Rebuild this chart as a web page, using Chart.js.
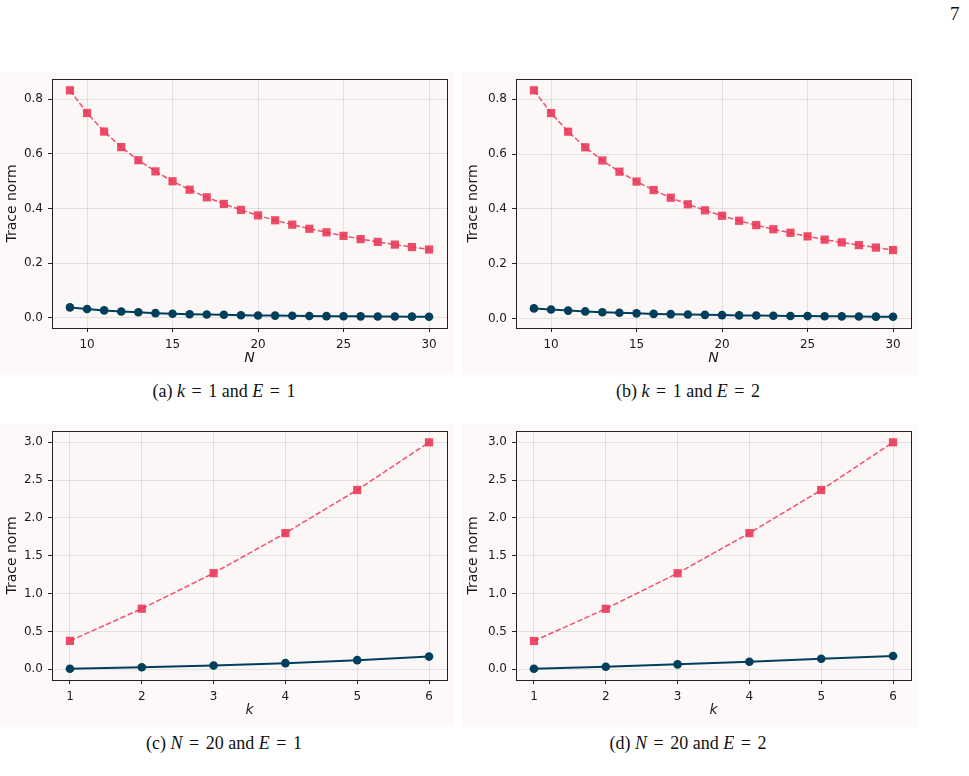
<!DOCTYPE html>
<html><head><meta charset="utf-8">
<script src="https://cdn.jsdelivr.net/npm/chart.js@4"></script>
<style>
body{margin:0;background:#fff;width:969px;height:776px;position:relative;overflow:hidden;font-family:"DejaVu Sans";}
.panel{position:absolute;background:#fdf9f9;}
.panel canvas{display:block;}
.cap{position:absolute;font-family:"Liberation Serif",serif;font-size:18px;color:#111;transform:translate(-50%,-50%);white-space:nowrap;}
.cap .eq{margin:0 6.5px;}
#pg{position:absolute;left:950px;top:3px;font-family:"Liberation Serif",serif;font-size:19px;color:#111;}
</style></head><body>
<div id="pg">7</div>
<div class="panel" style="left:0;top:72px;width:455px;height:303px"><canvas id="ca" width="455" height="303"></canvas></div>
<div class="panel" style="left:461px;top:72px;width:457px;height:303px"><canvas id="cb" width="457" height="303"></canvas></div>
<div class="panel" style="left:0;top:424px;width:455px;height:303px"><canvas id="cc" width="455" height="303"></canvas></div>
<div class="panel" style="left:461px;top:424px;width:457px;height:303px"><canvas id="cd" width="457" height="303"></canvas></div>
<div class="cap" style="left:224px;top:391px">(a) <i>k</i><span class="eq">=</span>1 and <i>E</i><span class="eq">=</span>1</div>
<div class="cap" style="left:688px;top:391px">(b) <i>k</i><span class="eq">=</span>1 and <i>E</i><span class="eq">=</span>2</div>
<div class="cap" style="left:224px;top:743px">(c) <i>N</i><span class="eq">=</span>20 and <i>E</i><span class="eq">=</span>1</div>
<div class="cap" style="left:688px;top:743px">(d) <i>N</i><span class="eq">=</span>20 and <i>E</i><span class="eq">=</span>2</div>
<script>
// ---- data ----
const nValues = [9,10,11,12,13,14,15,16,17,18,19,20,21,22,23,24,25,26,27,28,29,30];
const redA  = [0.833,0.750,0.682,0.625,0.577,0.536,0.500,0.469,0.441,0.417,0.395,0.375,0.357,0.341,0.326,0.313,0.300,0.288,0.278,0.268,0.259,0.250];
const blueA = [0.038,0.032,0.027,0.023,0.020,0.017,0.015,0.013,0.012,0.011,0.0095,0.0085,0.008,0.0072,0.0066,0.006,0.0056,0.0052,0.0048,0.0045,0.0042,0.004];
const redB  = [0.833,0.750,0.682,0.625,0.577,0.536,0.500,0.469,0.441,0.417,0.395,0.375,0.357,0.341,0.326,0.313,0.300,0.288,0.278,0.268,0.259,0.250];
const blueB = [0.037,0.033,0.029,0.026,0.023,0.021,0.019,0.017,0.016,0.015,0.0135,0.0125,0.0115,0.011,0.010,0.0095,0.009,0.0085,0.008,0.0075,0.007,0.0068];
const kValues = [1,2,3,4,5,6];
const redC  = [0.375,0.80,1.27,1.80,2.37,3.00];
const blueC = [0.007,0.026,0.048,0.080,0.120,0.167];
const redD  = [0.375,0.80,1.27,1.80,2.37,3.00];
const blueD = [0.009,0.035,0.066,0.100,0.140,0.176];
const xTicksN = [10,15,20,25,30];
const xTicksK = [1,2,3,4,5,6];
const yTicksAB = [0,0.2,0.4,0.6,0.8];
const yTicksCD = [0,0.5,1.0,1.5,2.0,2.5,3.0];
const yTitle = 'Trace norm';

// ---- style ----
const RED_LINE = '#f0506c';
const RED_MARK = 'rgba(232,52,84,0.88)';
const BLUE = '#003f5c';
const GRID = 'rgba(0,0,0,0.085)';
const AX_BG = '#fcf7f7';
const TXT = '#1a1a1a';

const boxPlugin = {
  id:'box',
  beforeDraw(c){const a=c.chartArea,x=c.ctx;x.save();x.fillStyle=AX_BG;x.fillRect(a.left,a.top,a.right-a.left,a.bottom-a.top);x.restore();},
  afterDraw(c){const a=c.chartArea,x=c.ctx;x.save();x.strokeStyle='#222';x.lineWidth=1;
    x.strokeRect(Math.round(a.left)+0.5,Math.round(a.top)+0.5,Math.round(a.right-a.left),Math.round(a.bottom-a.top));x.restore();}
};

function range(vals){const mn=Math.min(...vals),mx=Math.max(...vals),p=(mx-mn)*0.05;return [mn-p,mx+p];}

function make(id, xs, red, blue, xTicks, yTicks, xLabel, yW, padR){
  const [xmin,xmax]=range(xs);
  const [ymin,ymax]=range(red.concat(blue));
  new Chart(document.getElementById(id),{
    type:'line',
    data:{datasets:[
      {data:xs.map((x,i)=>({x,y:blue[i]})),borderColor:BLUE,backgroundColor:BLUE,borderWidth:2,
        pointStyle:'circle',pointRadius:4.3,pointBorderWidth:0,pointBackgroundColor:BLUE,tension:0},
      {data:xs.map((x,i)=>({x,y:red[i]})),borderColor:RED_LINE,borderWidth:1.5,borderDash:[5.5,2.4],
        pointStyle:'rect',pointRadius:5.8,pointBorderWidth:0,pointBackgroundColor:RED_MARK,tension:0}
    ]},
    options:{
      responsive:false,animation:false,devicePixelRatio:1,
      layout:{padding:{top:7,right:padR,left:0,bottom:0}},
      plugins:{legend:{display:false},tooltip:{enabled:false}},
      scales:{
        x:{type:'linear',min:xmin,max:xmax,
          afterBuildTicks:s=>{s.ticks=xTicks.map(v=>({value:v}));},
          afterFit:s=>{s.height=47;s.paddingLeft=0;s.paddingRight=0;},
          grid:{color:GRID,tickColor:'#222',tickLength:4,lineWidth:1},
          border:{display:false},
          ticks:{font:{family:'DejaVu Sans',size:12},color:TXT,padding:6,maxRotation:0,callback:v=>String(v)},
          title:{display:true,text:xLabel,font:{family:'DejaVu Sans',style:'italic',size:14},color:TXT,padding:{top:0,bottom:8}}},
        y:{type:'linear',min:ymin,max:ymax,
          afterBuildTicks:s=>{s.ticks=yTicks.map(v=>({value:v}));},
          afterFit:s=>{s.width=yW;s.paddingTop=0;s.paddingBottom=0;},
          grid:{color:GRID,tickColor:'#222',tickLength:4,lineWidth:1},
          border:{display:false},
          ticks:{font:{family:'DejaVu Sans',size:12},color:TXT,padding:5,callback:v=>Number(v).toFixed(1)},
          title:{display:true,text:yTitle,font:{family:'DejaVu Sans',size:14},color:TXT,padding:{top:4,bottom:0}}}
      }
    },
    plugins:[boxPlugin]
  });
}
make('ca', nValues, redA, blueA, xTicksN, yTicksAB, 'N', 52, 8);
make('cb', nValues, redB, blueB, xTicksN, yTicksAB, 'N', 55, 7);
make('cc', kValues, redC, blueC, xTicksK, yTicksCD, 'k', 52, 8);
make('cd', kValues, redD, blueD, xTicksK, yTicksCD, 'k', 55, 7);
</script>
</body></html>
